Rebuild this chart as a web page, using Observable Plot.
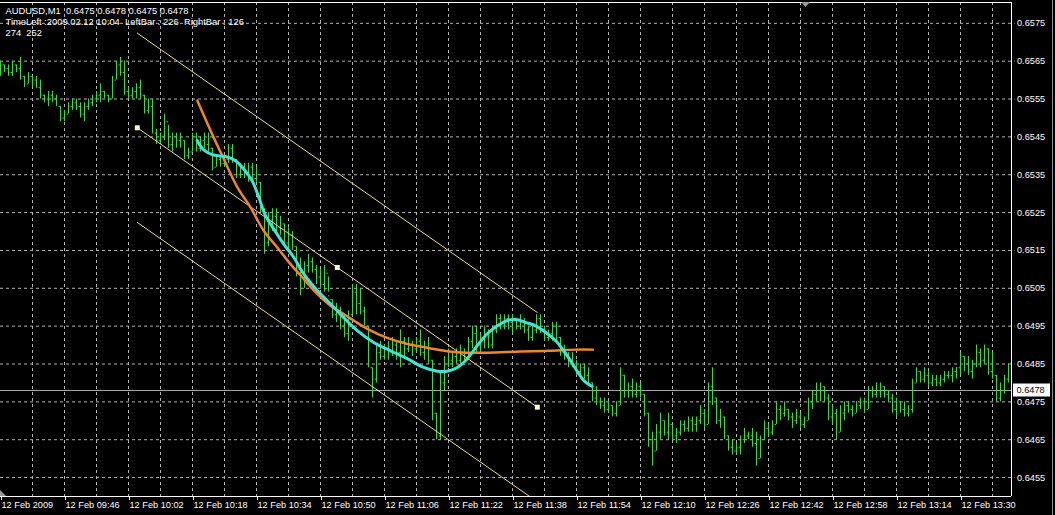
<!DOCTYPE html>
<html><head><meta charset="utf-8">
<script src="https://cdn.jsdelivr.net/npm/d3@7"></script>
<script src="https://cdn.jsdelivr.net/npm/@observablehq/plot@0.6"></script>
<style>
html,body{margin:0;padding:0;background:#000;}
#chart{width:1055px;height:515px;overflow:hidden;position:relative;}
svg{display:block}
svg text{white-space:pre}
</style></head><body><div id="chart"></div>
<script>
// ---- header texts ----
const headerLines = [
  "AUDUSD,M1  0.6475 0.6478 0.6475 0.6478",
  "TimeLeft :2009.02.12 10:04  LeftBar : 226  RightBar : 126",
  "274  252"
];
// ---- time axis (one bar per minute, label every 16 bars) ----
const timeTickIdx = [0,16,32,48,64,80,96,112,128,144,160,176,192,208,224,240];
const timeLabels = ["12 Feb 2009","12 Feb 09:46","12 Feb 10:02","12 Feb 10:18","12 Feb 10:34","12 Feb 10:50","12 Feb 11:06","12 Feb 11:22","12 Feb 11:38","12 Feb 11:54","12 Feb 12:10","12 Feb 12:26","12 Feb 12:42","12 Feb 12:58","12 Feb 13:14","12 Feb 13:30"];
const gridIdx = [8,16,24,32,40,48,56,64,72,80,88,96,104,112,120,128,136,144,152,160,168,176,184,192,200,208,216,224,232,240,248];
// ---- price axis ----
const priceTicks = [0.6455,0.6465,0.6475,0.6485,0.6495,0.6505,0.6515,0.6525,0.6535,0.6545,0.6555,0.6565,0.6575];
const currentPrice = 0.6478;
// ---- OHLC bars, in pips above 0.6400 ----
const basePrice = 0.64, pip = 0.0001;
const highPips = [
165,164,164,165,164,166,161,162,161,161, 160,156,157,157,156,153,152,154,155,155,
154,154,155,156,157,159,157,156,161,165, 166,165,158,158,159,160,156,155,155,147,
146,151,148,146,146,146,144,142,146,146, 145,146,146,142,140,140,140,143,143,139,
138,138,138,138,137,133,126,125,126,126, 124,122,121,120,116,113,112,114,113,111,
110,111,108,102,101,100,98,99,106,106, 105,100,95,84,90,91,90,91,92,91,
94,92,92,91,92,94,91,92,86,72, 83,87,89,88,89,90,89,92,95,95,
93,95,94,95,98,98,98,98,98,97, 98,97,95,95,98,98,95,94,96,96,
92,90,88,88,86,85,85,84,80,79, 76,76,75,74,75,84,82,80,81,80,
80,77,72,67,69,72,70,72,69,68, 70,70,71,71,71,74,73,80,84,76,
73,71,66,65,64,66,68,67,68,67, 66,70,69,70,75,74,75,73,72,73,
72,71,76,78,80,80,79,77,74,73, 74,75,75,74,75,76,76,79,79,80,
80,79,78,77,76,75,75,74,81,84, 83,84,83,82,82,82,83,83,84,84,
88,87,87,86,90,89,90,89,88,82, 80,82,85];
const lowPips = [
161,162,161,161,162,160,158,159,158,158, 155,154,153,154,153,149,149,151,152,152,
150,149,152,153,154,154,155,154,155,160, 161,156,155,155,155,155,151,151,146,143,
143,144,142,141,142,142,139,139,141,141, 141,142,141,136,137,137,137,138,138,134,
134,134,133,133,133,125,114,116,120,119, 119,116,115,115,108,103,105,109,109,106,
105,104,104,97,96,94,92,91,98,98, 98,95,84,76,80,86,86,86,87,86,
84,87,88,87,88,87,86,85,70,65, 65,78,84,84,85,85,85,86,89,88,
88,89,89,89,93,94,94,94,93,94, 94,93,91,91,93,93,91,91,91,91,
87,86,84,84,82,81,81,79,75,74, 73,72,72,71,71,74,76,76,76,76,
76,71,63,58,62,65,66,65,65,64, 66,67,67,67,67,69,68,69,74,69,
68,65,62,61,61,61,64,65,63,58, 60,65,66,66,69,70,71,70,68,69,
68,68,70,73,75,75,75,70,69,65, 67,70,72,71,72,73,72,73,76,76,
76,76,75,72,71,72,71,71,72,80, 80,80,79,79,79,79,80,81,80,81,
82,83,82,81,84,84,85,82,81,75, 75,77,80];
const openPips = [
162,164,163,162,164,163,161,159,161,160, 158,156,155,156,155,153,150,151,153,154,
153,151,153,154,155,156,157,156,155,160, 164,162,157,156,157,158,156,152,153,146,
144,145,149,143,145,144,144,140,141,145, 142,144,143,142,137,139,138,139,142,139,
135,137,135,137,134,133,126,117,123,124, 121,122,117,119,116,110,105,111,112,110,
108,106,109,102,98,99,95,93,98,104, 101,99,95,84,81,88,87,89,88,90,
88,91,89,90,89,91,88,89,86,72, 66,80,85,86,87,86,88,87,91,93,
90,92,93,90,94,97,95,97,96,97, 95,96,94,92,94,97,94,92,93,95,
92,88,87,86,85,83,84,82,80,76, 75,74,73,74,72,74,82,78,79,77,
79,77,72,65,62,67,70,67,69,66, 67,69,68,70,69,70,72,69,79,76,
70,71,66,63,62,63,65,66,66,64, 60,65,68,67,69,73,72,73,71,70,
71,69,70,75,77,78,79,76,71,72, 67,72,74,73,72,74,75,73,78,77,
78,79,77,76,73,75,73,72,73,80, 83,81,82,80,81,80,81,82,82,83,
84,87,85,83,85,88,86,89,83,82, 76,78,81];
const closePips = [
164,163,162,164,163,161,159,161,160,158, 156,155,156,155,154,150,151,153,154,153,
151,153,154,155,156,157,156,155,160,164, 162,157,156,157,158,156,152,153,146,144,
145,149,143,145,144,145,140,141,145,142, 144,143,142,137,139,138,139,142,139,135,
137,135,137,134,135,126,117,123,124,121, 122,117,119,116,110,105,111,112,110,108,
106,109,103,98,99,95,93,98,104,101, 99,96,86,81,88,87,89,88,90,88,
91,89,90,89,91,88,89,86,72,66, 80,85,86,87,86,88,87,91,93,90,
92,93,90,94,97,95,97,96,97,95, 96,94,92,94,97,94,92,93,95,92,
88,87,86,85,83,84,82,80,76,75, 74,73,74,72,74,82,78,79,77,79,
77,72,65,62,67,70,67,69,66,67, 69,68,70,69,70,72,69,79,76,70,
71,66,63,62,63,65,66,66,64,60, 65,68,67,69,73,72,73,71,70,71,
69,70,75,77,78,79,76,71,72,67, 72,74,73,72,74,75,73,78,77,78,
79,77,76,73,75,73,72,73,80,83, 81,82,80,81,80,81,82,82,83,84,
87,85,83,85,88,86,89,83,82,76, 78,81,84];
// ---- indicator curves (bar index, pips above 0.6400) ----
const orangeIdx = [49.2,52.5,55.8,59.2,62.5,65.8,69.2,72.5,75.8,79.2,82.5,85.8,88.3,91.7,96.7,101.7,106.7,111.7,116.7,121.7,130,137.1,143.8,148.1];
const orangePips = [154.6,146.7,139.2,131.7,126.4,120.2,115.8,111.4,107.5,103.5,100.4,98.2,96.5,94.3,91.9,90.3,89.3,88.4,88.0,88.0,88.3,88.5,88.8,88.8];
const cyanIdx = [49.2,50.8,53.3,56.25,58.75,60.8,62.9,64.6,66.25,68.3,70.8,73.3,75.8,79.2,82.5,85,89.2,93.3,97.5,101.7,105.8,109.2,111.7,114.2,116.7,119.2,121.7,124.2,126.7,129.2,131.25,133.75,136.25,138.75,140.8,142.5,144.6,146.25,147.9];
const cyanPips = [144.0,141.6,140.2,139.8,138.7,136.5,133.4,129.0,124.2,120.7,116.7,113.2,108.8,104.4,100.9,98.1,93.8,90.7,88.5,86.4,84.1,83.1,83.1,84.1,86.4,89.9,93.0,95.1,96.5,96.7,96.0,95.1,93.4,91.2,88.5,85.9,82.4,80.2,79.1];
// ---- regression channel ----
const channelIdx = [34.2, 134.2];
const channelMidPips = [147.4, 73.6];
const channelHalfPips = 25;
const anchorIdx = [34.2, 84.2, 134.2];

const toPrice = p => basePrice + p * pip;
const bars = highPips.map((h, i) => ({i, high: toPrice(h), low: toPrice(lowPips[i]), open: toPrice(openPips[i]), close: toPrice(closePips[i])}));
const orange = orangeIdx.map((x, k) => ({x, y: toPrice(orangePips[k])}));
const cyan = cyanIdx.map((x, k) => ({x, y: toPrice(cyanPips[k])}));
const chanLine = off => channelIdx.map((x, k) => ({x, y: toPrice(channelMidPips[k] + off)}));
const midAt = x => channelMidPips[0] + (channelMidPips[1] - channelMidPips[0]) * (x - channelIdx[0]) / (channelIdx[1] - channelIdx[0]);
const anchors = anchorIdx.map(x => ({x, y: toPrice(midAt(x))}));

const xMax = 252.75, yMin = 0.6450, yMax = 0.65805;
const green = "#46d246", gridColor = "#b4b4b4", chanColor = "#f0de92";

const chart = Plot.plot({
  width: 1055, height: 515,
  marginLeft: 0, marginRight: 44, marginTop: 2, marginBottom: 19,
  style: {background: "#000", color: "#fff", fontFamily: "'Liberation Sans', Arial, sans-serif", fontSize: "9.2px"},
  x: {domain: [0, xMax], axis: null},
  y: {domain: [yMin, yMax], axis: null},
  marks: [
    Plot.ruleX(gridIdx, {stroke: gridColor, strokeDasharray: "3,3"}),
    Plot.ruleY(priceTicks, {x1: 0, x2: xMax + 0.9, stroke: gridColor, strokeDasharray: "3,3"}),
    Plot.ruleY([currentPrice], {stroke: "#a8a8a8"}),
    Plot.ruleX(bars, {x: "i", y1: "low", y2: "high", stroke: green}),
    Plot.ruleY(bars, {y: "open", x1: d => d.i - 0.35, x2: "i", stroke: green}),
    Plot.ruleY(bars, {y: "close", x1: "i", x2: d => d.i + 0.35, stroke: green}),
    Plot.line(chanLine(channelHalfPips), {x: "x", y: "y", stroke: chanColor, strokeWidth: 1, clip: true}),
    Plot.line(chanLine(0), {x: "x", y: "y", stroke: chanColor, strokeWidth: 1, clip: true}),
    Plot.line(chanLine(-channelHalfPips), {x: "x", y: "y", stroke: chanColor, strokeWidth: 1, clip: true}),
    Plot.line(orange, {x: "x", y: "y", stroke: "#ee8530", strokeWidth: 2.5, curve: "catmull-rom"}),
    Plot.line(cyan, {x: "x", y: "y", stroke: "#44e2d2", strokeWidth: 3, curve: "catmull-rom"}),
    Plot.dot(anchors, {x: "x", y: "y", symbol: "square", r: 2.8, fill: "#fff8c8", stroke: null}),
    Plot.ruleY([yMax], {stroke: "#fff"}),
    Plot.ruleY([yMin], {stroke: "#fff"}),
    Plot.ruleX([xMax], {stroke: "#fff"}),
    Plot.axisX(timeTickIdx, {anchor: "bottom", tickSize: 4, tickPadding: 1, textAnchor: "start", dx: 1, tickFormat: d => timeLabels[timeTickIdx.indexOf(d)], color: "#fff", label: null}),
    Plot.axisY(priceTicks, {anchor: "right", tickSize: 0, tickPadding: 5.5, tickFormat: d => d.toFixed(4), color: "#fff", label: null}),
    Plot.text([headerLines[0]], {frameAnchor: "top-left", dx: 5, dy: 8.7, lineAnchor: "middle", textAnchor: "start", fill: "#fff", fontSize: 9.4}),
    Plot.text([headerLines[1]], {frameAnchor: "top-left", dx: 5, dy: 19.7, lineAnchor: "middle", textAnchor: "start", fill: "#fff", fontSize: 9.4}),
    Plot.text([headerLines[2]], {frameAnchor: "top-left", dx: 5, dy: 30.3, lineAnchor: "middle", textAnchor: "start", fill: "#fff", fontSize: 9.4})
  ]
});

// current price label box on the price axis
const svg = d3.select(chart);
const yCur = chart.scale("y").apply(currentPrice);
const xEdge = chart.scale("x").apply(xMax);
const g = svg.append("g").attr("text-anchor", "start");
g.append("rect").attr("x", xEdge + 2).attr("y", yCur - 6.5).attr("width", 37).attr("height", 13).attr("fill", "#fff");
g.append("text").attr("x", xEdge + 5.5).attr("y", yCur).attr("dy", "0.32em").attr("fill", "#000")
  .attr("text-anchor", "start").attr("font-size", "9.2px").text(currentPrice.toFixed(4));
// window decorations
g.append("path").attr("d", "M801,2 L810,2 L805.5,7 Z").attr("fill", "#9a9a9a");
g.append("path").attr("d", "M0,490 L6,496 L0,496 Z").attr("fill", "#9a9a9a");
g.append("line").attr("x1", 1052.5).attr("x2", 1052.5).attr("y1", 0).attr("y2", 515).attr("stroke", "#8a8a8a");

document.getElementById("chart").appendChild(chart);
</script>
</body></html>
